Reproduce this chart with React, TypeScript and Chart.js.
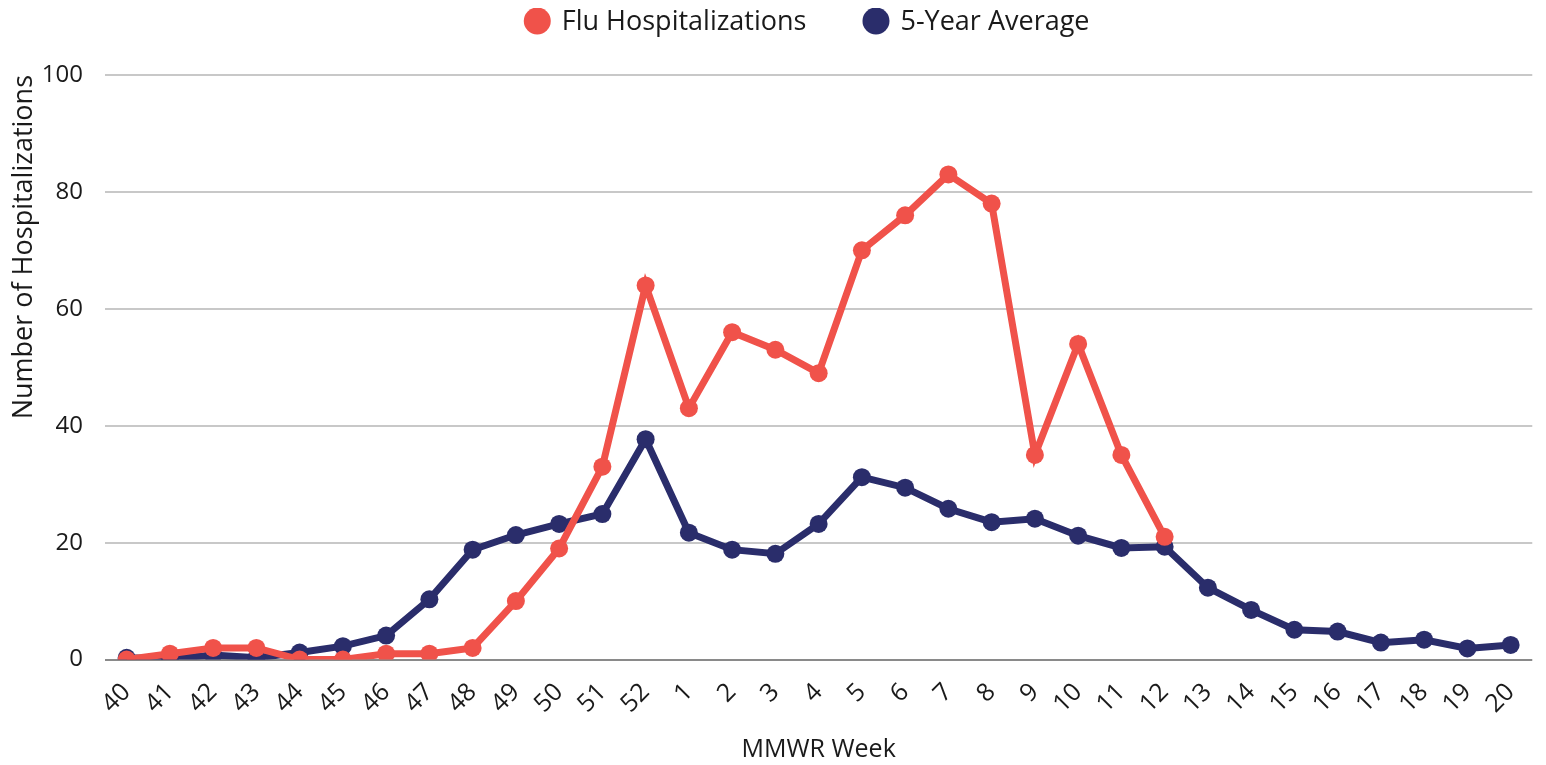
import React, { useEffect, useRef } from "react";
import { Chart, registerables } from "chart.js";

Chart.register(...registerables);

const weeks: string[] = [
  "40", "41", "42", "43", "44", "45", "46", "47", "48", "49", "50", "51", "52",
  "1", "2", "3", "4", "5", "6", "7", "8", "9", "10", "11", "12", "13", "14",
  "15", "16", "17", "18", "19", "20",
];

const fluHospitalizations: (number | null)[] = [
  0, 1, 2, 2, 0, 0, 1, 1, 2, 10, 19, 33, 64,
  43, 56, 53, 49, 70, 76, 83, 78, 35, 54, 35, 21,
  null, null, null, null, null, null, null, null,
];

const fiveYearAverage: number[] = [
  0.3, 0.1, 0.8, 0.3, 1.2, 2.3, 4.1, 10.3, 18.8, 21.3, 23.2, 24.9, 37.7,
  21.7, 18.8, 18.1, 23.2, 31.2, 29.4, 25.8, 23.5, 24.1, 21.2, 19.1, 19.3,
  12.3, 8.5, 5.1, 4.8, 2.9, 3.4, 1.9, 2.5,
];

const yTicks: number[] = [0, 20, 40, 60, 80, 100];

const RED = "#f0524a";
const NAVY = "#2a2d6b";
const TEXT = "#1a1a1a";
const FONT = "'Open Sans', sans-serif";

// Legend drawn on the canvas from the datasets' own labels and colours.
const topLegend = {
  id: "topLegend",
  afterDraw(chart: any) {
    const ctx = chart.ctx;
    const r = 13.5;
    const gap = 11;
    const spacing = 56;
    const y = 13;
    ctx.save();
    ctx.font = `27px ${FONT}`;
    ctx.textBaseline = "middle";
    ctx.textAlign = "left";
    const items = chart.data.datasets.map((ds: any) => ({
      text: ds.label as string,
      color: ds.borderColor as string,
      w: ctx.measureText(ds.label).width as number,
    }));
    const total =
      items.reduce((s: number, it: any) => s + 2 * r + gap + it.w, 0) +
      spacing * (items.length - 1);
    const ca = chart.chartArea;
    let x = (ca.left + ca.right) / 2 - 12 - total / 2;
    for (const it of items) {
      ctx.fillStyle = it.color;
      ctx.beginPath();
      ctx.arc(x + r, y, r, 0, Math.PI * 2);
      ctx.fill();
      ctx.fillStyle = TEXT;
      ctx.fillText(it.text, x + 2 * r + gap, y + 1);
      x += 2 * r + gap + it.w + spacing;
    }
    ctx.restore();
  },
};

export default function App() {
  const ref = useRef<HTMLCanvasElement | null>(null);

  useEffect(() => {
    if (!ref.current) return;
    const chart = new Chart(ref.current, {
      type: "line",
      data: {
        labels: weeks,
        datasets: [
          {
            label: "Flu Hospitalizations",
            data: fluHospitalizations,
            borderColor: RED,
            backgroundColor: RED,
            pointBackgroundColor: RED,
            pointBorderColor: RED,
            borderWidth: 7,
            pointRadius: 9,
            pointBorderWidth: 0,
            tension: 0,
            spanGaps: false,
          },
          {
            label: "5-Year Average",
            data: fiveYearAverage,
            borderColor: NAVY,
            backgroundColor: NAVY,
            pointBackgroundColor: NAVY,
            pointBorderColor: NAVY,
            borderWidth: 7,
            pointRadius: 9,
            pointBorderWidth: 0,
            tension: 0,
          },
        ],
      },
      plugins: [topLegend],
      options: {
        animation: false,
        responsive: true,
        maintainAspectRatio: false,
        layout: { padding: { left: 0, right: 4, top: 67, bottom: 0 } },
        plugins: {
          legend: { display: false },
          tooltip: { enabled: false },
        },
        scales: {
          x: {
            offset: true,
            grid: { display: false },
            border: { display: false },
            ticks: {
              minRotation: 45,
              maxRotation: 45,
              autoSkip: false,
              color: TEXT,
              font: { family: FONT, size: 25 },
              padding: 10,
            },
            title: {
              display: true,
              text: "MMWR Week",
              color: TEXT,
              font: { family: FONT, size: 25 },
              padding: { top: 6, bottom: 0 },
            },
          },
          y: {
            min: 0,
            max: 100,
            afterBuildTicks: (axis: any) => {
              axis.ticks = yTicks.map((v) => ({ value: v }));
            },
            afterFit: (axis: any) => {
              axis.width = 97;
            },
            grid: {
              color: (ctx: any) => (ctx.tick && ctx.tick.value === 0 ? "#8a8a8a" : "#c8c8c8"),
              lineWidth: 2,
              drawTicks: false,
            },
            border: { display: false },
            ticks: {
              color: TEXT,
              font: { family: FONT, size: 24 },
              padding: 22,
            },
            title: {
              display: true,
              text: "Number of Hospitalizations",
              align: "end",
              color: TEXT,
              font: { family: FONT, size: 27 },
              padding: { top: 0, bottom: 2 },
            },
          },
        },
      },
    });
    return () => chart.destroy();
  }, []);

  return (
    <div style={{ width: 1534, height: 757, marginBottom: -8, position: "relative" }}>
      <canvas ref={ref} />
    </div>
  );
}
